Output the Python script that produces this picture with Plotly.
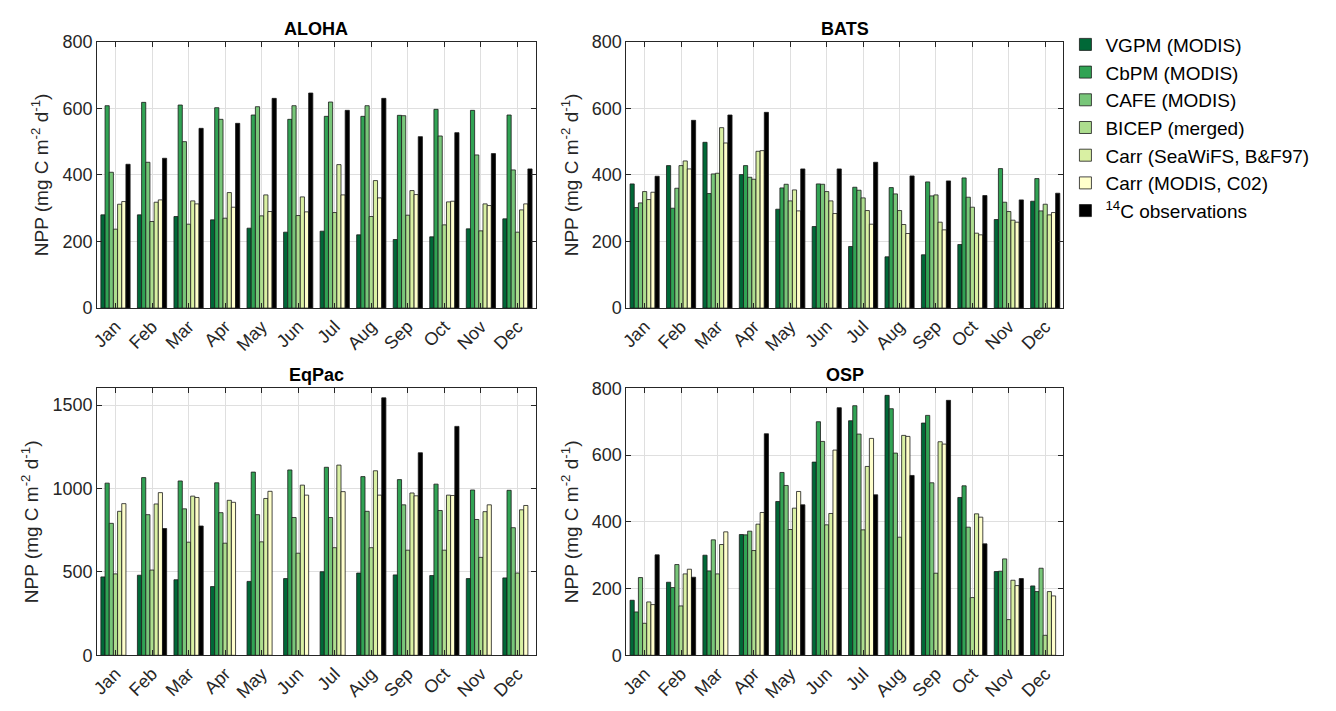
import plotly.graph_objects as go

months = ["Jan", "Feb", "Mar", "Apr", "May", "Jun", "Jul", "Aug", "Sep", "Oct", "Nov", "Dec"]
series_names = ["VGPM (MODIS)", "CbPM (MODIS)", "CAFE (MODIS)", "BICEP (merged)",
                "Carr (SeaWiFS, B&F97)", "Carr (MODIS, C02)", "<sup>14</sup>C observations"]
series_colors = ["#006837", "#31a354", "#78c679", "#addd8e", "#d9f0a3", "#ffffcc", "#000000"]

# ALOHA
aloha_vgpm = [280, 280, 275, 265, 240, 228, 231, 220, 206, 214, 238, 268]
aloha_cbpm = [608, 618, 610, 602, 580, 567, 576, 576, 579, 597, 594, 580]
aloha_cafe = [408, 438, 500, 567, 605, 608, 619, 608, 578, 517, 460, 415]
aloha_bicep = [237, 260, 252, 270, 277, 278, 287, 275, 279, 250, 232, 228]
aloha_carr_sw = [312, 318, 322, 347, 340, 334, 431, 383, 353, 319, 313, 295]
aloha_carr_mo = [320, 325, 313, 303, 290, 289, 340, 331, 341, 321, 308, 313]
aloha_obs = [432, 450, 540, 555, 630, 646, 594, 630, 515, 527, 464, 418]

# BATS
bats_vgpm = [373, 428, 498, 401, 297, 245, 185, 154, 160, 191, 266, 321]
bats_cbpm = [302, 300, 344, 428, 361, 373, 363, 362, 379, 391, 419, 389]
bats_cafe = [316, 360, 403, 393, 372, 372, 354, 343, 337, 333, 318, 292]
bats_bicep = [350, 428, 405, 387, 322, 350, 331, 293, 340, 303, 290, 312]
bats_carr_sw = [326, 442, 542, 471, 355, 322, 293, 251, 258, 225, 264, 280]
bats_carr_mo = [348, 418, 496, 473, 292, 284, 252, 224, 235, 220, 258, 287]
bats_obs = [396, 564, 580, 588, 418, 418, 438, 397, 382, 338, 325, 345]

# EqPac
eqpac_vgpm = [470, 480, 453, 412, 443, 460, 501, 493, 482, 478, 460, 464]
eqpac_cbpm = [1032, 1065, 1045, 1034, 1098, 1111, 1127, 1071, 1053, 1026, 991, 989]
eqpac_cafe = [791, 843, 878, 855, 843, 826, 826, 863, 902, 868, 814, 765]
eqpac_bicep = [488, 511, 678, 672, 680, 612, 645, 645, 630, 630, 587, 493]
eqpac_carr_sw = [863, 907, 954, 929, 940, 1020, 1140, 1106, 973, 960, 861, 872]
eqpac_carr_mo = [909, 975, 946, 917, 983, 960, 981, 960, 956, 958, 902, 898]
eqpac_obs = [None, 760, 775, None, None, None, None, 1543, 1214, 1372, None, None]

# OSP
osp_vgpm = [165, 219, 300, 362, 461, 579, 703, 779, 696, 473, 251, 208]
osp_cbpm = [130, 203, 253, 361, 548, 700, 748, 739, 719, 508, 252, 191]
osp_cafe = [233, 272, 346, 372, 509, 641, 663, 606, 517, 384, 289, 261]
osp_bicep = [96, 148, 244, 314, 377, 391, 376, 354, 246, 173, 107, 60]
osp_carr_sw = [160, 244, 332, 393, 441, 425, 566, 659, 640, 424, 225, 191]
osp_carr_mo = [152, 258, 370, 428, 491, 615, 650, 656, 633, 414, 209, 178]
osp_obs = [301, 234, None, 664, 451, 742, 481, 539, 764, 334, 230, None]

panels = [
    ("ALOHA", [aloha_vgpm, aloha_cbpm, aloha_cafe, aloha_bicep, aloha_carr_sw, aloha_carr_mo, aloha_obs], 800, [0, 200, 400, 600, 800]),
    ("BATS", [bats_vgpm, bats_cbpm, bats_cafe, bats_bicep, bats_carr_sw, bats_carr_mo, bats_obs], 800, [0, 200, 400, 600, 800]),
    ("EqPac", [eqpac_vgpm, eqpac_cbpm, eqpac_cafe, eqpac_bicep, eqpac_carr_sw, eqpac_carr_mo, eqpac_obs], 1600, [0, 500, 1000, 1500]),
    ("OSP", [osp_vgpm, osp_cbpm, osp_cafe, osp_bicep, osp_carr_sw, osp_carr_mo, osp_obs], 800, [0, 200, 400, 600, 800]),
]

W, H = 1336, 711
xdoms = [[90.7 / W, 531.5 / W], [622.7 / W, 1062.0 / W]]
ydoms = [[1 - 306.7 / H, 1 - 32.7 / H], [1 - 664.0 / H, 1 - 389.3 / H]]

FONT = "Liberation Sans, Arial, Helvetica, sans-serif"
TXT = "#262626"
xnum = list(range(1, 13))

fig = go.Figure()
layout = dict(
    width=W, height=H,
    margin=dict(l=0, r=0, t=0, b=0),
    paper_bgcolor="white", plot_bgcolor="white",
    barmode="group", bargap=0.2, bargroupgap=0.0,
    font=dict(family=FONT, size=18, color=TXT),
    showlegend=True,
    legend=dict(x=1064 / W, y=1 - 16 / H, xanchor="left", yanchor="top",
                font=dict(family=FONT, size=19, color="#000000"),
                bgcolor="rgba(0,0,0,0)", tracegroupgap=0, itemwidth=30),
    annotations=[],
)

for i, (name, data, ymax, yticks) in enumerate(panels):
    r, c = divmod(i, 2)
    k = "" if i == 0 else str(i + 1)
    xa, ya = "x" + k, "y" + k
    for j, vals in enumerate(data):
        fig.add_trace(go.Bar(
            x=xnum, y=vals, name=series_names[j],
            marker=dict(color=series_colors[j], line=dict(color="#1a1a1a", width=0.8)),
            xaxis=xa, yaxis=ya, showlegend=(i == 0), legendgroup=series_names[j],
            offsetgroup=str(j),
        ))
    layout["xaxis" + k] = dict(
        domain=xdoms[c], anchor=ya, range=[0.5, 12.5],
        tickmode="array", tickvals=xnum, ticktext=months, tickangle=-45,
        showgrid=True, gridcolor="#dfdfdf", gridwidth=1,
        showline=True, linecolor=TXT, linewidth=1, mirror="ticks",
        ticks="inside", ticklen=5, tickcolor=TXT, zeroline=False,
        tickfont=dict(family=FONT, size=18, color=TXT),
    )
    layout["yaxis" + k] = dict(
        domain=ydoms[r], anchor=xa, range=[0, ymax],
        tickmode="array", tickvals=yticks,
        showgrid=True, gridcolor="#dfdfdf", gridwidth=1,
        showline=True, linecolor=TXT, linewidth=1, mirror="ticks",
        ticks="inside", ticklen=5, tickcolor=TXT, zeroline=False,
        tickfont=dict(family=FONT, size=18, color=TXT),
        title=dict(text="NPP (mg C m<sup>-2</sup> d<sup>-1</sup>)",
                   font=dict(family=FONT, size=19, color=TXT), standoff=8),
    )
    layout["annotations"].append(dict(
        text="<b>%s</b>" % name, x=0.5, y=1, xref=xa + " domain", yref=ya + " domain",
        xanchor="center", yanchor="bottom", yshift=1, showarrow=False,
        font=dict(family=FONT, size=18, color="#000000"),
    ))

fig.update_layout(**layout)
fig.write_html("out.html")
